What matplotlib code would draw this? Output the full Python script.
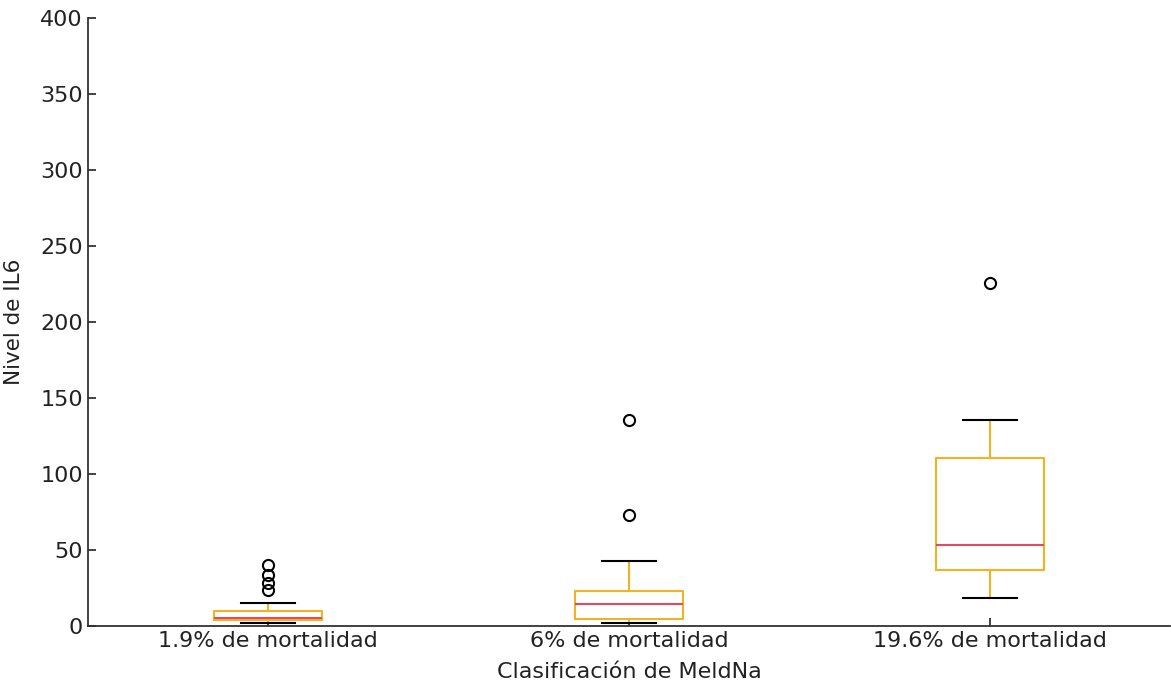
import matplotlib.pyplot as plt

# IL6 summary per MeldNa class
categories = ['1.9% de mortalidad', '6% de mortalidad', '19.6% de mortalidad']
whislo = [2.2, 1.8, 18.2]
q1 = [3.9, 4.8, 36.8]
med = [5.0, 14.5, 53.7]
q3 = [9.9, 22.8, 110.7]
whishi = [14.9, 42.8, 136.0]
fliers = [[23.7, 28.5, 33.5, 40.1], [73.0, 136.0], [226.0]]

stats = []
for i, name in enumerate(categories):
    stats.append({'label': name, 'whislo': whislo[i], 'q1': q1[i], 'med': med[i],
                  'q3': q3[i], 'whishi': whishi[i], 'fliers': fliers[i]})

fig, ax = plt.subplots(figsize=(11.71, 6.85), dpi=100)

box_color = '#f0b323'
ax.bxp(stats, widths=0.3,
       boxprops=dict(color=box_color, linewidth=1.5),
       whiskerprops=dict(color=box_color, linewidth=1.5),
       capprops=dict(color='black', linewidth=1.5),
       medianprops=dict(color='#e34a5d', linewidth=1.5),
       flierprops=dict(marker='o', markerfacecolor='none', markeredgecolor='black',
                       markersize=8, markeredgewidth=1.5))

ax.set_ylim(0, 400)
ax.set_yticks(range(0, 401, 50))
ax.set_xlabel('Clasificación de MeldNa', fontsize=16, color='#222222', labelpad=8)
ax.set_ylabel('Nivel de IL6', fontsize=15.5, color='#222222', labelpad=12)

for side in ['top', 'right']:
    ax.spines[side].set_visible(False)
for side in ['left', 'bottom']:
    ax.spines[side].set_color('#333333')
    ax.spines[side].set_linewidth(1.3)
ax.tick_params(direction='in', length=6, width=1.3, labelsize=16,
               colors='#333333', labelcolor='#222222')

plt.subplots_adjust(left=0.075, right=0.9995, top=0.973, bottom=0.086)
plt.savefig('out.png', dpi=100)
